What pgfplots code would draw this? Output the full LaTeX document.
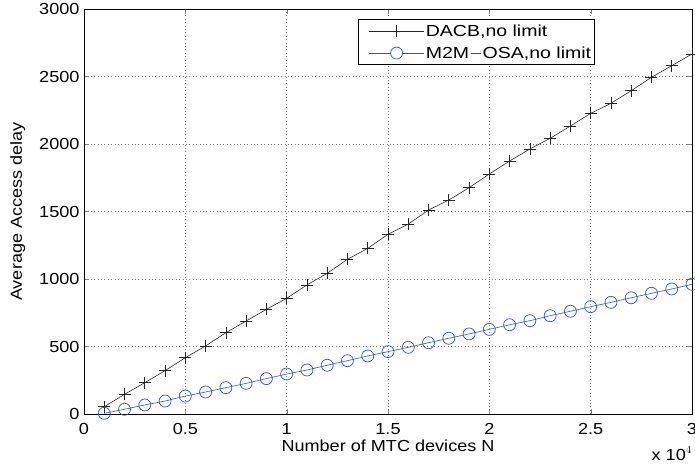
\documentclass[border=0pt]{standalone}
\usepackage{pgfplots}
\pgfplotsset{compat=1.18}
\usepackage{fontspec}
\setmainfont[FakeStretch=1.13]{Liberation Sans}
\newfontfamily\legfont[FakeStretch=1.22]{Liberation Sans}
\definecolor{mblue}{RGB}{50,80,190}
\begin{document}
\begin{tikzpicture}[x=1pt,y=1pt]
\begin{axis}[
  name=ax,
  scale only axis,
  width=608pt, height=405pt,
  xmin=0, xmax=3, ymin=0, ymax=3000,
  xtick={0,0.5,1,1.5,2,2.5,3},
  xticklabels={0,0.5,1,1.5,2,2.5,3},
  ytick={0,500,1000,1500,2000,2500,3000},
  /pgf/number format/assume math mode=true,
  /pgf/number format/1000 sep={},
  tick label style={font=\fontsize{16}{18}\selectfont},
  label style={font=\fontsize{16}{18}\selectfont},
  xticklabel style={anchor=base, yshift=-20pt},
  yticklabel style={xshift=-1pt},
  xlabel={Number of MTC devices N},
  ylabel={Average Access delay},
  xlabel style={at={([yshift=-37pt]axis description cs:0.5,0)}, anchor=base, inner sep=0pt},
  ylabel style={at={([xshift=-62pt]axis description cs:0,0.5)}, anchor=base, inner sep=0pt},
  grid=major,
  major grid style={black!55, dash pattern=on 0.8pt off 2.6pt, line width=0.7pt},
  tick align=inside,
  tick pos=both,
  major tick length=5pt,
  axis line style={line width=0.9pt},
  legend style={at={(0.8405,0.975)}, anchor=north east, draw=black, line width=0.7pt,
    font=\legfont\fontsize{16}{18}\selectfont, inner xsep=2pt, inner ysep=4pt, row sep=7pt,
    nodes={inner xsep=1.5pt, inner ysep=1pt},
    cells={anchor=west}},
  legend cell align=left,
  clip=false,
]
\addplot[black!85, line width=0.6pt, mark=+, mark size=6pt, mark options={line width=0.7pt},
  legend image code/.code={%
    \path (0pt,0pt);
    \draw[black!85, line width=0.6pt] (8.5pt,0pt) -- (63.5pt,0pt);
    \draw[black!85, line width=0.7pt] (36pt,-6pt) -- (36pt,6pt) (30pt,0pt) -- (42pt,0pt);}] coordinates {
(0.1,54) (0.2,146) (0.3,232) (0.4,321) (0.5,417) (0.6,504) (0.7,602) (0.8,689) (0.9,775) (1.0,857)
(1.1,956) (1.2,1042) (1.3,1146) (1.4,1227) (1.5,1331) (1.6,1407) (1.7,1511) (1.8,1585) (1.9,1676) (2.0,1778)
(2.1,1874) (2.2,1963) (2.3,2042) (2.4,2133) (2.5,2227) (2.6,2301) (2.7,2395) (2.8,2494) (2.9,2580) (3.0,2667)
};
\addlegendentry{DACB,no limit}
\addplot[mblue, line width=0.6pt, mark=o, mark size=6pt, mark options={line width=0.7pt},
  legend image code/.code={%
    \path (0pt,0pt);
    \draw[mblue, line width=0.6pt] (8.5pt,0pt) -- (30pt,0pt) (42pt,0pt) -- (63.5pt,0pt);
    \draw[mblue, line width=0.7pt] (36pt,0pt) circle (6pt);}] coordinates {
(0.1,5) (0.2,35) (0.3,67) (0.4,96) (0.5,133) (0.6,163) (0.7,195) (0.8,227) (0.9,262) (1.0,296)
(1.1,326) (1.2,361) (1.3,395) (1.4,430) (1.5,462) (1.6,494) (1.7,528) (1.8,561) (1.9,593) (2.0,627)
(2.1,661) (2.2,691) (2.3,728) (2.4,761) (2.5,795) (2.6,827) (2.7,861) (2.8,894) (2.9,926) (3.0,961)
};
\addlegendentry{M2M$-$OSA,no limit}
\node[anchor=base east, font=\fontsize{16}{18}\selectfont, inner sep=0pt] at ([yshift=-46pt]rel axis cs:1.0,0) {x 10$^{4}$};
\end{axis}
\pgfresetboundingbox
\path ([shift={(-84pt,-51pt)}]ax.south west) rectangle ([shift={(3pt,9pt)}]ax.north east);
\end{tikzpicture}
\end{document}
